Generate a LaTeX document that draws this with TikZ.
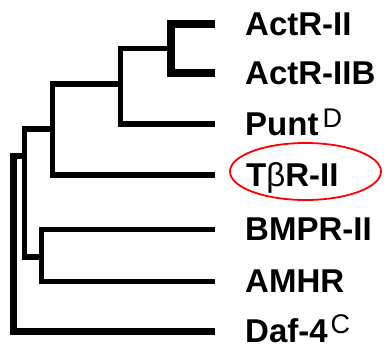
\documentclass[tikz,border=0pt]{standalone}
\usepackage{fontspec}
\setmainfont{Liberation Sans}
\usetikzlibrary{shapes.geometric}
\begin{document}
\begin{tikzpicture}[x=1bp,y=-1bp,
  branch/.style={line width=5.5bp, line join=miter, line cap=butt},
  taxon/.style={anchor=base west, inner sep=0pt, font=\bfseries\fontsize{33bp}{38bp}\selectfont},
  ring/.style={draw=red, line width=1.8bp, ellipse, inner sep=0pt}]
\useasboundingbox (0,0) rectangle (388,348);
% leaf ends
\coordinate (l1) at (215,24);
\coordinate (l2) at (215,73);
\coordinate (l3) at (215,124);
\coordinate (l4) at (215,175);
\coordinate (l5) at (215,229.5);
\coordinate (l6) at (215,281.5);
\coordinate (l7) at (215,331.5);
% internal nodes
\coordinate (nA) at (171,48.5);
\coordinate (nB) at (120.5,84);
\coordinate (nC) at (52.5,129);
\coordinate (nD) at (24.5,156);
\coordinate (nE) at (41.5,257);
\coordinate (nR) at (13.5,200);
% branches
\draw[branch, line width=7.5bp] (l1) -| (nA) |- (l2);
\draw[branch] (nA) -| (nB) |- (l3);
\draw[branch] (nB) -| (nC) |- (l4);
\draw[branch] (nC) -| (nD) |- (nE);
\draw[branch] (l5) -| (nE) |- (l6);
\draw[branch, line width=6.5bp] (nD) -| (nR) |- (l7);
% labels
\node[taxon] (t1) at (245,35) {ActR-II};
\node[taxon] (t2) at (245,84) {ActR-IIB};
\node[taxon] (t3) at (245,135) {Punt\hspace{4bp}\raisebox{8bp}{\mdseries\fontsize{27bp}{30bp}\selectfont D}};
\node[taxon] (t4) at (246,186) {T{\mdseries β}R-II};
\node[taxon] (t5) at (245,240.5) {BMPR-II};
\node[taxon] (t6) at (245,292.5) {AMHR};
\node[taxon] (t7) at (245,342.5) {Daf-4\hspace{3bp}\raisebox{9bp}{\mdseries\fontsize{27bp}{30bp}\selectfont C}};
\node[ring, minimum width=151bp, minimum height=57bp] (hl) at (305.5,171.5) {};
\end{tikzpicture}
\end{document}
